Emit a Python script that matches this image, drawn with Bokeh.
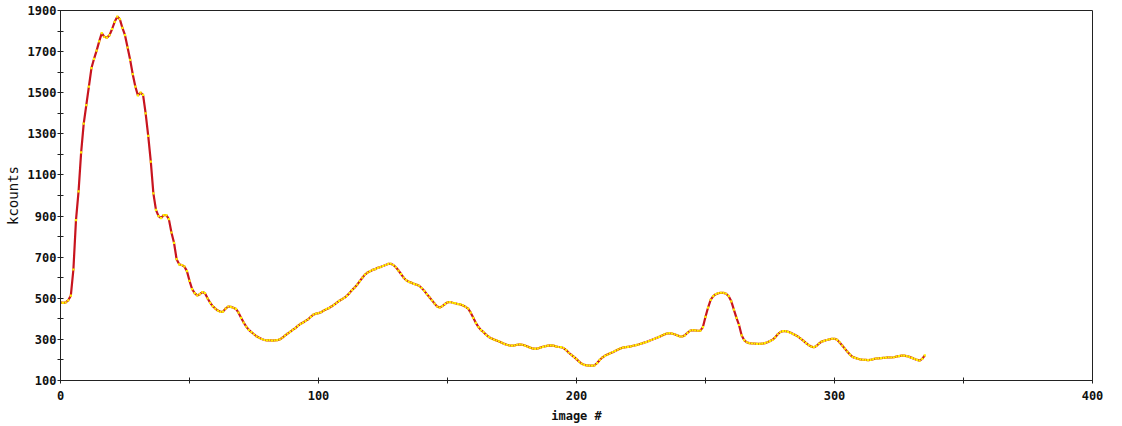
from bokeh.plotting import figure
from bokeh.models import Range1d, FixedTicker, ColumnDataSource
from bokeh.embed import file_html
from bokeh.resources import INLINE

# kcounts per image, one value per image number starting at 0
kcounts = [
    480, 478, 480, 490, 513, 640, 880, 1020, 1210, 1350,
    1440, 1530, 1620, 1665, 1705, 1750, 1790, 1772, 1768, 1780,
    1810, 1845, 1870, 1858, 1815, 1780, 1720, 1660, 1590, 1530,
    1487, 1500, 1490, 1400, 1290, 1165, 1010, 930, 900, 890,
    905, 905, 885, 820, 770, 690, 665, 662, 655, 632,
    585, 545, 525, 514, 520, 530, 525, 500, 478, 462,
    450, 440, 434, 435, 450, 460, 458, 454, 448, 430,
    405, 382, 362, 346, 335, 325, 315, 308, 302, 297,
    295, 296, 294, 295, 296, 300, 308, 318, 328, 337,
    346, 355, 366, 375, 382, 390, 398, 410, 420, 425,
    428, 432, 440, 447, 452, 460, 468, 478, 487, 495,
    502, 512, 525, 540, 552, 566, 583, 600, 615, 625,
    632, 638, 642, 648, 652, 657, 662, 667, 668, 662,
    651, 635, 618, 600, 588, 580, 576, 570, 566, 561,
    550, 536, 520, 505, 490, 474, 460, 455, 462, 472,
    480, 482, 478, 476, 472, 470, 465, 458, 450, 430,
    405, 380, 360, 345, 335, 322, 312, 305, 299, 295,
    290, 284, 278, 274, 271, 270, 271, 274, 276, 274,
    270, 265, 260, 256, 254, 256, 260, 264, 267, 270,
    271, 270, 266, 263, 262, 258, 248, 235, 225, 215,
    204, 192, 182, 176, 174, 172, 172, 174, 185, 200,
    212, 220, 226, 232, 238, 244, 250, 256, 260, 262,
    264, 266, 269, 272, 275, 279, 283, 287, 292, 297,
    302, 307, 312, 318, 324, 328, 330, 328, 325, 320,
    315, 314, 320, 332, 342, 345, 344, 342, 343, 360,
    410, 455, 492, 510, 520, 525, 527, 526, 522, 510,
    485, 445, 405, 370, 320, 296, 286, 282, 280, 280,
    278, 278, 279, 282, 286, 292, 298, 310, 325, 336,
    340, 340, 337, 332, 326, 320, 312, 303, 293, 282,
    272, 265, 262, 268, 280, 289, 293, 297, 300, 303,
    303, 298, 285, 270, 255, 240, 226, 215, 210, 206,
    203, 201, 200, 199, 200, 204, 207, 208, 209, 210,
    211, 213, 212, 213, 216, 219, 221, 221, 219, 215,
    210, 205, 200, 197, 205, 222,
]
image_no = list(range(len(kcounts)))

x_ticks = [0, 100, 200, 300, 400]
x_minor = [50, 150, 250, 350]
y_ticks = [100, 300, 500, 700, 900, 1100, 1300, 1500, 1700, 1900]
y_minor = [200, 400, 600, 800, 1000, 1200, 1400, 1600, 1800]

src = ColumnDataSource(data=dict(x=image_no, y=kcounts))

p = figure(width=1122, height=426, output_backend="svg", toolbar_location=None,
           x_range=Range1d(0, 400), y_range=Range1d(100, 1900))
p.min_border_left = 60
p.min_border_right = 30
p.min_border_top = 10
p.min_border_bottom = 46
p.background_fill_color = "white"
p.border_fill_color = "white"
p.outline_line_color = "#222222"
p.outline_line_width = 1
p.xgrid.visible = False
p.ygrid.visible = False

# red trace with a yellow dot at every image
p.line("x", "y", source=src, line_color="#c8141e", line_width=2.2)
p.scatter("x", "y", source=src, marker="square", size=2.2,
          fill_color="#fff200", line_color=None)

font = "DejaVu Sans Mono"
for ax in (p.xaxis[0], p.yaxis[0]):
    ax.axis_line_color = "#222222"
    ax.major_tick_line_color = "#222222"
    ax.minor_tick_line_color = "#222222"
    ax.major_tick_in = 3
    ax.major_tick_out = 3
    ax.minor_tick_in = 3
    ax.minor_tick_out = 3
    ax.major_label_text_font = font
    ax.major_label_text_font_style = "bold"
    ax.major_label_text_font_size = "12px"
    ax.major_label_text_color = "#111111"
    ax.axis_label_text_font = font
    ax.axis_label_text_color = "#111111"

p.xaxis[0].ticker = FixedTicker(ticks=x_ticks, minor_ticks=x_minor)
p.yaxis[0].ticker = FixedTicker(ticks=y_ticks, minor_ticks=y_minor)
p.xaxis[0].axis_label = "image #"
p.xaxis[0].axis_label_text_font_style = "bold"
p.xaxis[0].axis_label_text_font_size = "12px"
p.yaxis[0].axis_label = "kcounts"
p.yaxis[0].axis_label_text_font_style = "normal"
p.yaxis[0].axis_label_text_font_size = "14px"
p.xaxis[0].major_label_standoff = 7
p.yaxis[0].major_label_standoff = 1
p.xaxis[0].axis_label_standoff = 6
p.yaxis[0].axis_label_standoff = 4

open("out.html", "w").write(file_html(p, INLINE))
